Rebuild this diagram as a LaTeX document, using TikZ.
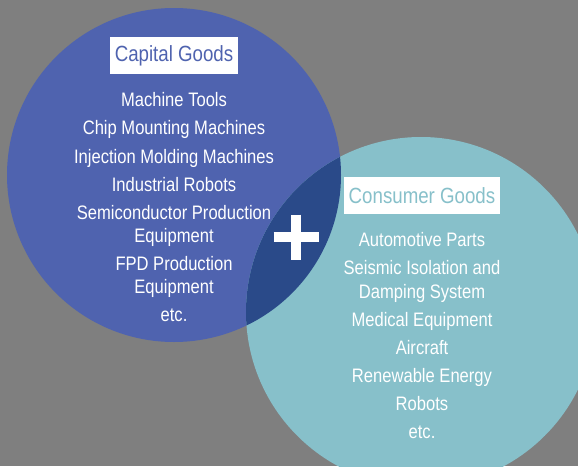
\documentclass[tikz,border=0pt]{standalone}
\usepackage{fontspec}
\setmainfont{Liberation Sans}[FakeStretch=0.85]
\usepackage{tikz}
\definecolor{bggray}{HTML}{7F7F7F}
\definecolor{capblue}{HTML}{4F63AF}
\definecolor{conscyan}{HTML}{87C0CA}
\definecolor{overlapblue}{HTML}{2A4A89}

\tikzset{
  goodsbox/.style={fill=white, inner xsep=5pt, inner ysep=0pt, minimum height=37pt,
    font=\fontsize{22}{26}\selectfont},
  itemlist/.style={text=white, align=center, inner sep=0pt, anchor=north,
    font=\fontsize{19.5}{23.1}\selectfont},
  plussign/.style={white, line width=9.5pt}
}

\begin{document}
\begin{tikzpicture}[x=1pt,y=-1pt]
  \fill[bggray] (0,0) rectangle (578,466);
  \useasboundingbox (0,0) rectangle (578,466);

  \coordinate (C1) at (174,175);
  \coordinate (C2) at (421,312);
  \coordinate (P) at (296,237);

  % the two sets and their overlap
  \fill[capblue] (C1) circle[radius=167];
  \fill[conscyan] (C2) circle[radius=175];
  \begin{scope}
    \clip (C1) circle[radius=167];
    \fill[overlapblue] (C2) circle[radius=175];
  \end{scope}

  \draw[plussign] (P) ++(-22.5,0) -- ++(45,0);
  \draw[plussign] (P) ++(0,-22.5) -- ++(0,45);

  \node[goodsbox, text=capblue] (capital) at (174,55.5) {Capital Goods};
  \node[itemlist] (capitallist) at (174,92.5) {Machine Tools\\[5pt]
    Chip Mounting Machines\\[5pt]
    Injection Molding Machines\\[5pt]
    Industrial Robots\\[5pt]
    Semiconductor Production\\ Equipment\\[5pt]
    FPD Production\\ Equipment\\[5pt]
    etc.};

  \node[goodsbox, text=conscyan] (consumer) at (422,195.5) {Consumer Goods};
  \node[itemlist] (consumerlist) at (422,232.5) {Automotive Parts\\[5pt]
    Seismic Isolation and\\ Damping System\\[5pt]
    Medical Equipment\\[5pt]
    Aircraft\\[5pt]
    Renewable Energy\\[5pt]
    Robots\\[5pt]
    etc.};
\end{tikzpicture}
\end{document}
